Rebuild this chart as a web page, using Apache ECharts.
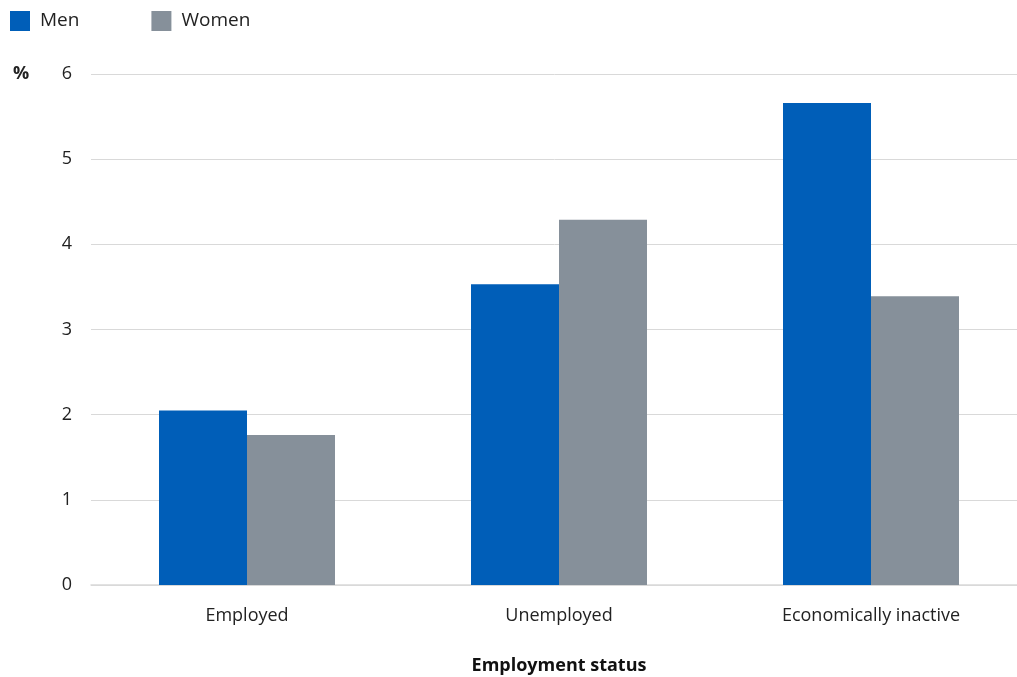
<!DOCTYPE html>
<html><head><meta charset="utf-8">
<script src="https://cdn.jsdelivr.net/npm/echarts@6/dist/echarts.min.js"></script>
<style>html,body{margin:0;padding:0;background:#fff}#c{width:1017px;height:677px}</style>
</head><body><div id="c"></div>
<script>
var categories = ['Employed', 'Unemployed', 'Economically inactive'];
var men = [2.05, 3.53, 5.66];
var women = [1.76, 4.29, 3.39];
var yTicks = [0, 1, 2, 3, 4, 5, 6];
var FONT = '"Open Sans", "Noto Sans", sans-serif';
var chart = echarts.init(document.getElementById('c'));
chart.setOption({
  animation: false,
  textStyle: {fontFamily: FONT},
  legend: {
    left: 10, top: 11, padding: 0, itemWidth: 20, itemHeight: 20, itemGap: 72,
    icon: 'rect',
    textStyle: {fontSize: 19, color: '#222', fontFamily: FONT, padding: [0,0,0,5]},
    data: ['Men', 'Women']
  },
  grid: {left: 91, width: 936, top: 74, bottom: 92, containLabel: false, outerBoundsMode: 'none'},
  graphic: [{type: 'text', left: 13, top: 65, style: {text: '%', fontSize: 18, fontWeight: 'bold', fill: '#222', fontFamily: FONT}}],
  xAxis: {
    type: 'category', data: categories,
    axisTick: {show: false},
    axisLine: {lineStyle: {color: '#d9d9d9', width: 1.5}},
    axisLabel: {fontSize: 18, color: '#222', margin: 22, fontFamily: FONT},
    name: 'Employment status', nameLocation: 'middle', nameGap: 72,
    nameTextStyle: {fontSize: 18, fontWeight: 'bold', color: '#111', fontFamily: FONT}
  },
  yAxis: {
    type: 'value', min: yTicks[0], max: yTicks[yTicks.length - 1], interval: 1,
    axisLine: {show: false}, axisTick: {show: false},
    splitLine: {lineStyle: {color: '#d9d9d9', width: 1}},
    axisLabel: {fontSize: 18, color: '#222', margin: 19, fontFamily: FONT}
  },
  series: [
    {name: 'Men', type: 'bar', data: men, barWidth: 88, barGap: '0%',
     itemStyle: {color: '#005EB8'}},
    {name: 'Women', type: 'bar', data: women, barWidth: 88,
     itemStyle: {color: '#86909A'}}
  ]
});
</script></body></html>
